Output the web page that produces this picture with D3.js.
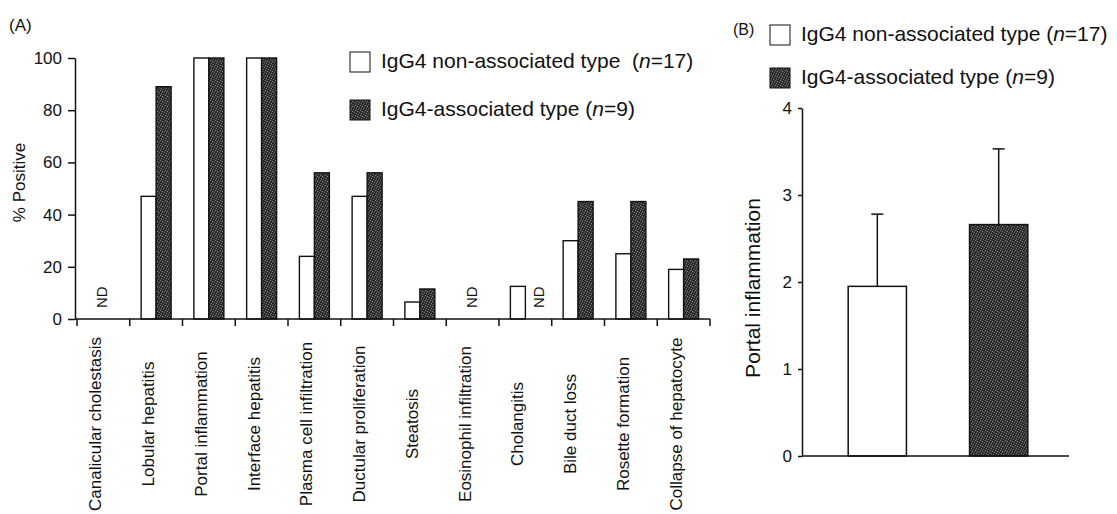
<!DOCTYPE html>
<html>
<head>
<meta charset="utf-8">
<script src="https://cdn.jsdelivr.net/npm/d3@7"></script>
<style>
  body { margin: 0; background: #fff; }
  svg { display: block; }
  text { font-family: "Liberation Sans", Arial, Helvetica, sans-serif; fill: #111; }
  .axis path, .axis line { stroke: #111; stroke-width: 1.5; }
  .axis text { font-size: 17px; font-family: "Liberation Sans", Arial, sans-serif; fill: #111; }
</style>
</head>
<body>
<svg id="chart" width="1117" height="514"></svg>
<script>
// (A) 所見ごとの陽性率
const categories = [
  'Canalicular cholestasis', 'Lobular hepatitis', 'Portal inflammation',
  'Interface hepatitis', 'Plasma cell infiltration', 'Ductular proliferation',
  'Steatosis', 'Eosinophil infiltration', 'Cholangitis', 'Bile duct loss',
  'Rosette formation', 'Collapse of hepatocyte'
];
const series = ['non', 'assoc'];
// null = ND
const non_assoc = [null, 47, 100, 100, 24, 47, 6.5, null, 12.5, 30, 25, 19];
const assoc     = [null, 89, 100, 100, 56, 56, 11.5, null, null, 45, 45, 23];
const yticks_a  = [0, 20, 40, 60, 80, 100];

// (B) portal inflammation score
const groups_b = ['IgG4 non-associated type', 'IgG4-associated type'];
const mean_b   = [1.95, 2.66];
const err_b    = [0.83, 0.87];
const yticks_b = [0, 1, 2, 3, 4];

const legend_labels = [
  {name: 'IgG4 non-associated type', n: '17', key: 'non'},
  {name: 'IgG4-associated type', n: '9', key: 'assoc'}
];

const svg = d3.select('#chart');

// 濃い方の塗り(網点っぽく)
const defs = svg.append('defs');
const pat = defs.append('pattern')
  .attr('id', 'dots').attr('patternUnits', 'userSpaceOnUse')
  .attr('width', 5).attr('height', 5);
pat.append('rect').attr('width', 5).attr('height', 5).attr('fill', '#333');
[[0,0,'#7a7a7a'],[2,1,'#888'],[4,2,'#6a6a6a'],[1,3,'#7e7e7e'],[3,4,'#707070'],
 [3,0,'#181818'],[0,2,'#1c1c1c'],[2,3,'#151515'],[4,4,'#202020']].forEach(p => {
  pat.append('rect').attr('x', p[0]).attr('y', p[1]).attr('width', 1).attr('height', 1).attr('fill', p[2]);
});
const fill_of = key => key === 'non' ? '#fff' : 'url(#dots)';

// ---------- (A) ----------
const ya = d3.scaleLinear().domain([0, 100]).range([319, 58]);
const xa = d3.scaleBand().domain(categories).range([77, 710]);
const xsub = d3.scaleBand().domain(series).range([0, xa.bandwidth()]).paddingOuter(0.76);

const ga = svg.append('g');

ga.append('text').attr('x', 9).attr('y', 31).style('font-size', '17px').text('(A)');

ga.append('g').attr('class', 'axis')
  .attr('transform', 'translate(75,0)')
  .call(d3.axisLeft(ya).tickValues(yticks_a).tickSize(7).tickSizeOuter(0).tickPadding(6));

ga.append('text')
  .attr('transform', `translate(25,${(ya(0) + ya(100)) / 2 - 6}) rotate(-90)`)
  .attr('text-anchor', 'middle').style('font-size', '17px')
  .text('% Positive');

const rows = categories.map((c, i) => ({cat: c, non: non_assoc[i], assoc: assoc[i]}));

// 棒
rows.forEach(r => {
  series.forEach(s => {
    if (r[s] == null) return;
    ga.append('rect')
      .attr('x', xa(r.cat) + xsub(s))
      .attr('y', ya(r[s]))
      .attr('width', xsub.bandwidth())
      .attr('height', ya(0) - ya(r[s]))
      .attr('fill', fill_of(s))
      .attr('stroke', '#111').attr('stroke-width', 1.4);
  });
});

// ND
rows.forEach(r => {
  const both = r.non == null && r.assoc == null;
  const spots = [];
  if (both) spots.push(xa(r.cat) + xa.bandwidth() / 2 - 1);
  else series.forEach(s => { if (r[s] == null) spots.push(xa(r.cat) + xsub(s) + xsub.bandwidth() / 2 + 6); });
  spots.forEach(cx => {
    ga.append('text')
      .attr('transform', `translate(${cx + 5},${ya(0) - 11}) rotate(-90)`)
      .style('font-size', '15px')
      .text('ND');
  });
});

// x軸(区切り目盛り)
ga.append('line').attr('x1', 75).attr('x2', xa.range()[1])
  .attr('y1', ya(0)).attr('y2', ya(0)).attr('stroke', '#111').attr('stroke-width', 1.5);
const bounds = categories.map(c => xa(c)).concat([xa.range()[1]]);
ga.selectAll('line.xt').data(bounds).join('line').attr('class', 'xt')
  .attr('x1', d => d).attr('x2', d => d)
  .attr('y1', ya(0)).attr('y2', ya(0) + 7)
  .attr('stroke', '#111').attr('stroke-width', 1.5);

ga.selectAll('text.cat').data(categories).join('text').attr('class', 'cat')
  .attr('transform', d => `translate(${xa(d) + xa.bandwidth() / 2 - 2},424) rotate(-90)`)
  .attr('text-anchor', 'middle').style('font-size', '17px')
  .text(d => d);

// 凡例
function draw_legend(parent, x, y, gap, box, fs, spaces) {
  legend_labels.forEach((l, i) => {
    const yy = y + i * gap;
    parent.append('rect').attr('x', x).attr('y', yy).attr('width', box).attr('height', box)
      .attr('fill', fill_of(l.key)).attr('stroke', '#111').attr('stroke-width', 1);
    const t = parent.append('text').attr('x', x + box + 11).attr('y', yy + box - 4)
      .style('font-size', fs + 'px').attr('xml:space', 'preserve');
    t.append('tspan').text(l.name + (i === 0 ? spaces : ' ') + '(');
    t.append('tspan').style('font-style', 'italic').text('n');
    t.append('tspan').text('=' + l.n + ')');
  });
}
draw_legend(ga, 350, 52, 48, 20, 21, '  ');

// ---------- (B) ----------
const yb = d3.scaleLinear().domain([0, 4]).range([456, 108]);
const xb = d3.scaleBand().domain(groups_b).range([813, 1063]).paddingInner(0.52).paddingOuter(0.29);

const gb = svg.append('g');
gb.append('text').attr('x', 733).attr('y', 35).style('font-size', '16px').text('(B)');
draw_legend(gb, 770, 25, 43, 20, 21, ' ');

gb.append('g').attr('class', 'axis')
  .attr('transform', 'translate(802,0)')
  .call(d3.axisLeft(yb).tickValues(yticks_b).tickFormat(d3.format('d'))
    .tickSize(4).tickSizeOuter(0).tickPadding(6));

gb.append('text')
  .attr('transform', `translate(760,${(yb(0) + yb(4)) / 2 + 6}) rotate(-90)`)
  .attr('text-anchor', 'middle').style('font-size', '21px')
  .text('Portal inflammation');

groups_b.forEach((g, i) => {
  const x0 = xb(g), w = xb.bandwidth(), cx = x0 + w / 2;
  // 誤差棒
  gb.append('line').attr('x1', cx).attr('x2', cx)
    .attr('y1', yb(mean_b[i])).attr('y2', yb(mean_b[i] + err_b[i]))
    .attr('stroke', '#111').attr('stroke-width', 1.5);
  gb.append('line').attr('x1', cx - 6).attr('x2', cx + 6)
    .attr('y1', yb(mean_b[i] + err_b[i])).attr('y2', yb(mean_b[i] + err_b[i]))
    .attr('stroke', '#111').attr('stroke-width', 1.5);
  gb.append('rect').attr('x', x0).attr('y', yb(mean_b[i]))
    .attr('width', w).attr('height', yb(0) - yb(mean_b[i]))
    .attr('fill', fill_of(series[i])).attr('stroke', '#111').attr('stroke-width', 1.5);
});

gb.append('line').attr('x1', 802).attr('x2', 1069)
  .attr('y1', yb(0)).attr('y2', yb(0)).attr('stroke', '#111').attr('stroke-width', 1.5);
</script>
</body>
</html>
